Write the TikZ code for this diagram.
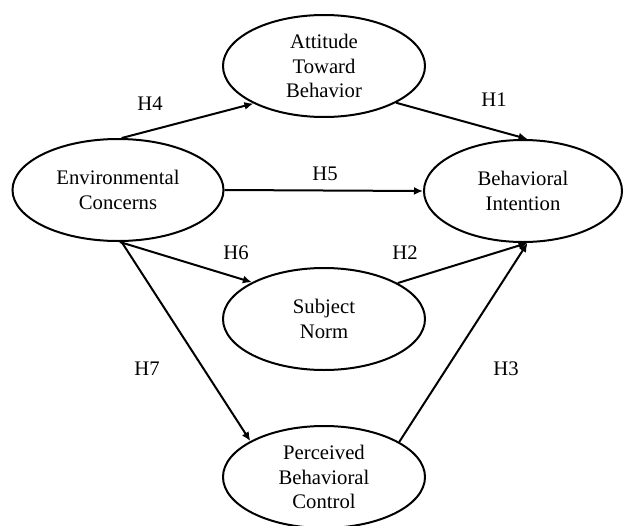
\documentclass[tikz,border=0pt]{standalone}
\usepackage{fontspec}
\setmainfont{Liberation Serif}
\usetikzlibrary{shapes.geometric,arrows.meta}
\begin{document}
\begin{tikzpicture}[x=1pt,y=-1pt,
  latent/.style={ellipse,draw,line width=2pt,inner sep=0pt,minimum width=202pt,minimum height=102pt,align=center,font=\fontsize{20.7}{24.5}\selectfont},
  arr/.style={line width=2pt,-{Latex[length=9pt,width=8pt]}},
  hlab/.style={font=\fontsize{20.7}{24.5}\selectfont,inner sep=0pt}]
\useasboundingbox (0,0) rectangle (624,525);
\node[latent] (att) at (324,66) {Attitude\\Toward\\Behavior};
\node[latent,minimum width=211pt] (ec) at (118,190) {Environmental\\Concerns};
\node[latent,minimum width=198pt] (bi) at (523,191) {Behavioral\\Intention};
\node[latent] (sn) at (324,319) {Subject\\Norm};
\node[latent] (pbc) at (324,477) {Perceived\\Behavioral\\Control};
\draw[arr] (ec.86) -- (att.208);
\draw[arr] (att.333) -- (bi.85);
\draw[arr] (ec.east) -- (bi.west);
\draw[arr] (ec.272) -- (sn.153);
\draw[arr] (ec.274) -- (pbc.154);
\draw[arr] (sn.26) -- (bi.275);
\draw[arr] (pbc.25) -- (bi.275);
\node[hlab] (h4) at (150,104) {H4};
\node[hlab] (h1) at (494,100) {H1};
\node[hlab] (h5) at (325,174) {H5};
\node[hlab] (h6) at (236,253) {H6};
\node[hlab] (h2) at (405,253) {H2};
\node[hlab] (h7) at (147,369) {H7};
\node[hlab] (h3) at (506,369) {H3};
\end{tikzpicture}
\end{document}
